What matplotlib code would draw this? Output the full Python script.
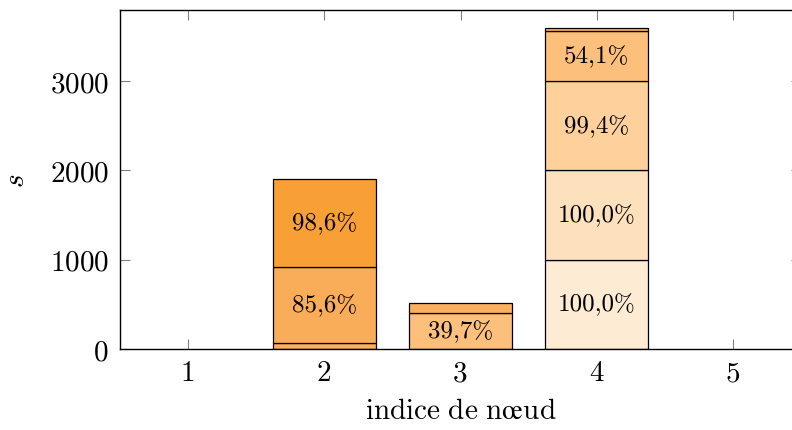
import matplotlib
matplotlib.use("Agg")
import matplotlib.pyplot as plt
import numpy as np

plt.rcParams['font.family'] = ['cmr10', 'DejaVu Serif']
plt.rcParams['mathtext.fontset'] = 'cm'
plt.rcParams['axes.unicode_minus'] = False
plt.rcParams['axes.formatter.use_mathtext'] = True

nodes = [1, 2, 3, 4, 5]
tick_labels = ['1', '2', '3', '4', '5']

# stacked series (bottom to top), values per node
s1 = [0, 0, 0, 1000, 0]
s2 = [0, 0, 0, 1000, 0]
s3 = [0, 0, 0, 1000, 0]
s4 = [0, 0, 403, 560, 0]
s5 = [0, 67, 115, 35, 0]
s6 = [0, 851, 0, 0, 0]
s7 = [0, 986, 0, 0, 0]
series = [s1, s2, s3, s4, s5, s6, s7]

# segment labels per series
l1 = ['', '', '', '100,0%', '']
l2 = ['', '', '', '100,0%', '']
l3 = ['', '', '', '99,4%', '']
l4 = ['', '', '39,7%', '54,1%', '']
l5 = ['', '', '', '', '']
l6 = ['', '85,6%', '', '', '']
l7 = ['', '98,6%', '', '', '']
labels = [l1, l2, l3, l4, l5, l6, l7]

colors = ['#fdebd3', '#fde0bc', '#fdd09c', '#fdbf7c', '#fbb060', '#faad58', '#f8a035']

fig = plt.figure(figsize=(7.92, 4.31), dpi=100)
ax = fig.add_axes([120 / 792, 81 / 431, 681 / 792, 339 / 431])

bottom = np.zeros(len(nodes))
for vals, labs, c in zip(series, labels, colors):
    v = np.array(vals, dtype=float)
    mask = v > 0
    xs = np.array(nodes)[mask]
    ax.bar(xs, v[mask], bottom=bottom[mask], width=0.76, color=c,
           edgecolor='black', linewidth=0.9, zorder=2)
    for x, val, b, lab in zip(nodes, v, bottom, labs):
        if lab:
            ax.text(x, b + val / 2, lab, ha='center', va='center', fontsize=18, zorder=3)
    bottom += v

ax.set_xlim(0.5, 5.5)
ax.set_ylim(0, 3795)
ax.set_xticks(nodes)
ax.set_xticklabels(tick_labels)
ax.set_yticks([0, 1000, 2000, 3000])
ax.tick_params(direction='in', length=7, width=0.8, color='#808080', labelsize=21,
               top=True, right=True, pad=8)
for sp in ax.spines.values():
    sp.set_linewidth(1.0)
    sp.set_zorder(4)

ax.set_xlabel(r'$\mathrm{indice\ de\ n\oe ud}$', fontsize=21, labelpad=8)
ax.set_ylabel('$s$', fontsize=21, labelpad=14)

fig.savefig('out.png', dpi=100)
